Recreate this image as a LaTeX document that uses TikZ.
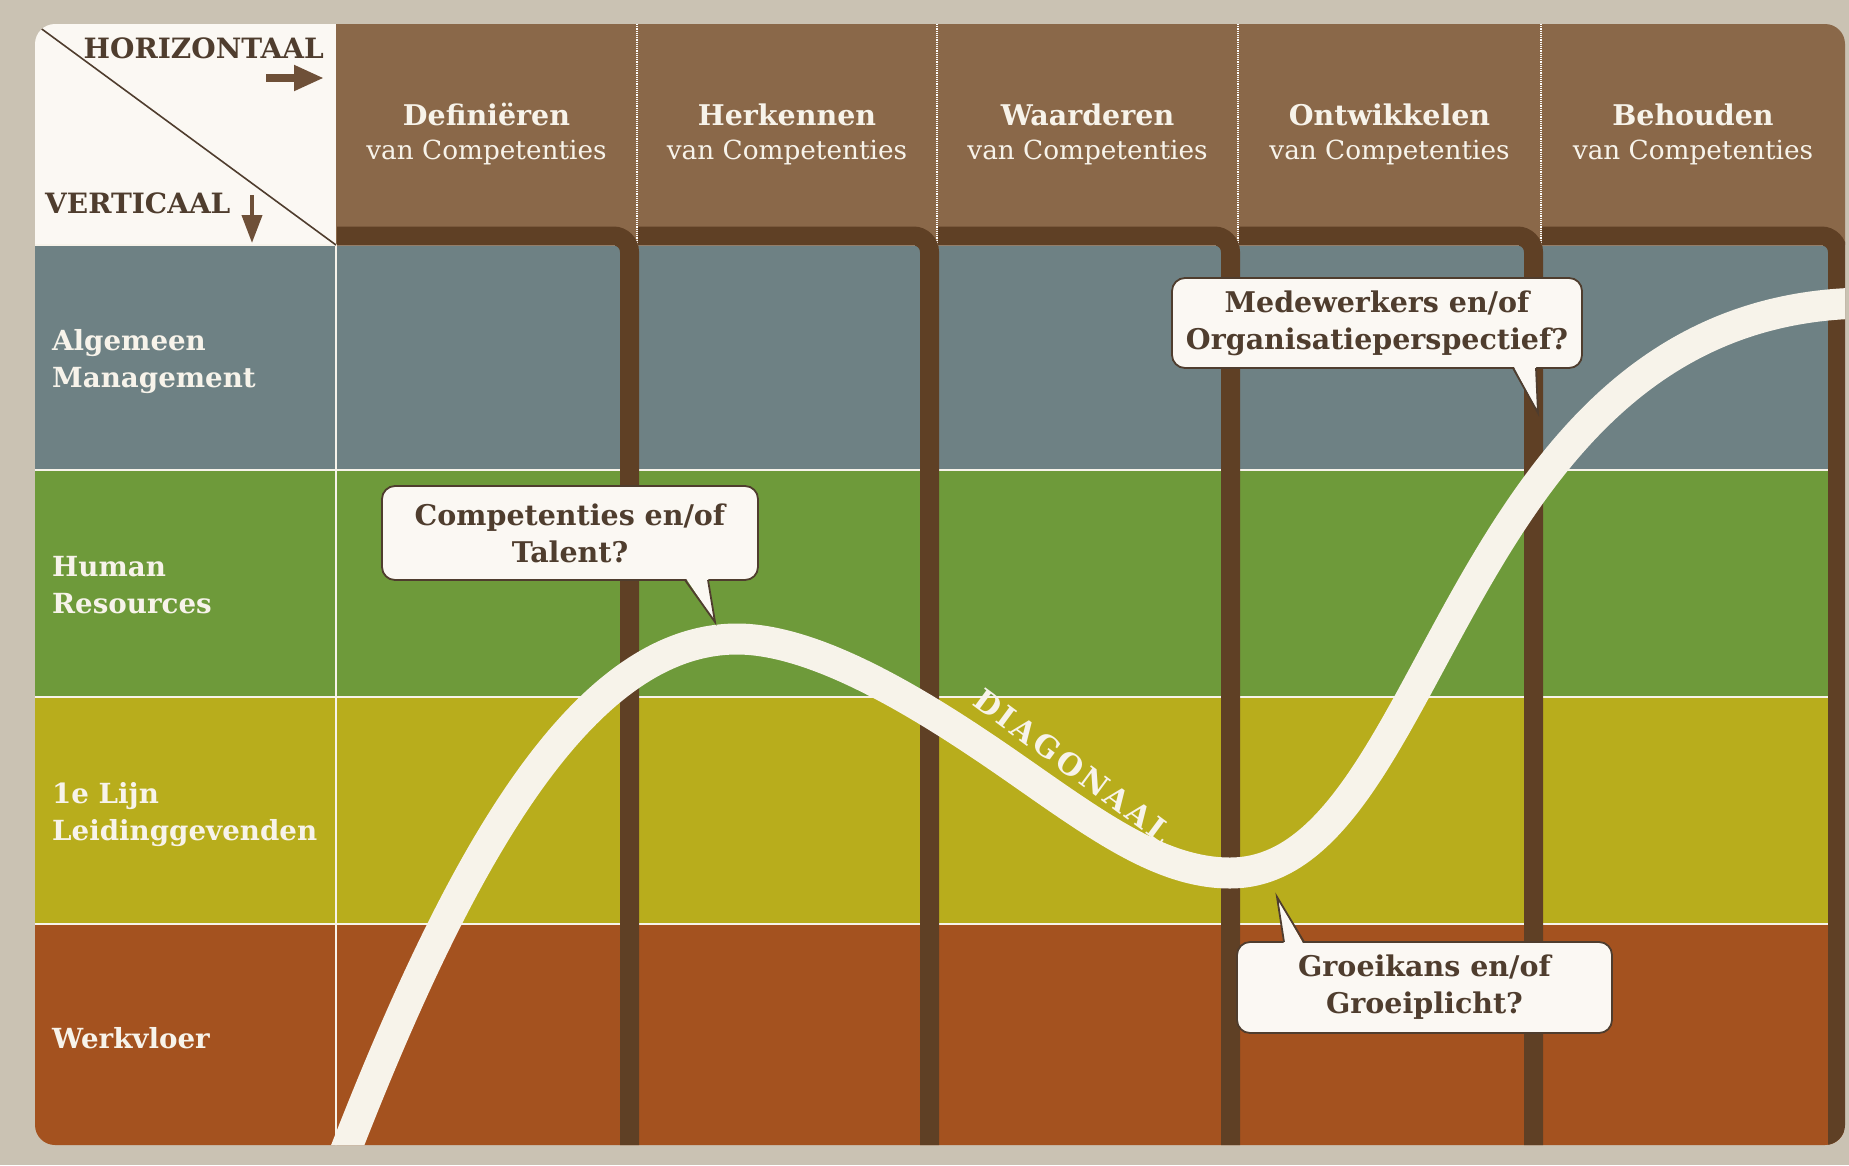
\documentclass[tikz,border=0pt]{standalone}
\usepackage{fontspec}
\setmainfont{DejaVu Serif}
\newfontfamily\diagfont[LetterSpace=11]{DejaVu Serif}
\usetikzlibrary{arrows.meta}
\definecolor{bgc}{HTML}{CAC2B3}
\definecolor{hdr}{HTML}{8A6849}
\definecolor{barc}{HTML}{5F4025}
\definecolor{slate}{HTML}{6E8184}
\definecolor{grn}{HTML}{6E9A3A}
\definecolor{ylw}{HTML}{B8AD1C}
\definecolor{rust}{HTML}{A4521F}
\definecolor{cream}{HTML}{F7F3EA}
\definecolor{wbox}{HTML}{FBF8F3}
\definecolor{dkb}{HTML}{4F3D2E}
\definecolor{arrc}{HTML}{6E5038}
\begin{document}
\begin{tikzpicture}[x=1pt,y=-1pt,
  rowline/.style={draw=cream,line width=2.5pt},
  hsep/.style={draw=white,line width=1.2pt,densely dotted},
  barline/.style={draw=barc,line width=19pt,line cap=butt,rounded corners=16pt},
  curveband/.style={draw=cream,line width=31pt,line cap=butt},
  hbold/.style={text=cream,font=\fontsize{28.5}{30}\selectfont\bfseries,anchor=base,inner sep=0pt},
  hreg/.style={text=cream,font=\fontsize{26.3}{30}\selectfont,anchor=base,inner sep=0pt},
  rowlab/.style={text=cream,font=\fontsize{27.7}{30}\selectfont\bfseries,anchor=base west,inner sep=0pt},
  axlab/.style={text=dkb,font=\fontsize{28}{30}\selectfont\bfseries,inner sep=0pt},
  bubble/.style={draw=dkb,line width=1.8pt,fill=wbox,rounded corners=13pt,align=center,
     text=dkb,font=\fontsize{28.5}{37}\selectfont\bfseries,inner sep=0pt},
  tailfill/.style={fill=wbox},
  tailline/.style={draw=dkb,line width=1.8pt,line join=miter},
]
\useasboundingbox (0,0) rectangle (1849,1165);
\fill[bgc] (0,0) rectangle (1849,1165);
\begin{scope}
\clip[rounded corners=20pt] (35,24) rectangle (1845,1145);
% rows
\fill[slate] (35,245) rectangle (1845,470);
\fill[grn] (35,470) rectangle (1845,697);
\fill[ylw] (35,697) rectangle (1845,924);
\fill[rust] (35,924) rectangle (1845,1150);
% header
\fill[hdr] (336,20) rectangle (1850,245);
\fill[wbox] (30,20) rectangle (336,245);
% row lines
\foreach \yy in {245,470,697,924} \draw[rowline] (35,\yy) -- (1845,\yy);
\draw[draw=cream,line width=1.5pt] (336,245) -- (336,1150);
% header separators
\foreach \xx in {637,937,1238,1541} \draw[hsep] (\xx,24) -- (\xx,245);
% column bars
\foreach \l/\r in {336/637,637/937,937/1238,1238/1541,1541/1845}
  \draw[barline] ({\l+1},236) -- ({\r-7.5},236) -- ({\r-7.5},1170);
% corner diagonal
\draw[dkb,line width=1.6pt] (35,24) -- (336,245);
% diagonal curve
\draw[curveband] (336,1175) -- (340,1165)
  .. controls (450,880) and (575,639) .. (737,639)
  .. controls (820,639) and (931,710) .. (1013,767)
  .. controls (1095,824) and (1160,873) .. (1230,873)
  .. controls (1440,873) and (1450,303) .. (1870,303);
\end{scope}

% axis labels
\node[axlab,anchor=base east] (hor) at (324,58) {HORIZONTAAL};
\node[axlab,anchor=base west] (ver) at (45,213) {VERTICAAL};
\coordinate (ha1) at (266,78);
\coordinate (ha2) at (324,78);
\coordinate (va1) at (252,195);
\coordinate (va2) at (252,243);
\draw[arrc,line width=8pt,-{Triangle[length=30pt,width=24pt]}] (ha1) -- (ha2);
\draw[arrc,line width=4pt,-{Triangle[length=28pt,width=20pt]}] (va1) -- (va2);

% header texts
\node[hbold] (hb1) at (486.5,125) {Definiëren};
\node[hreg]  (hr1) at (486.5,159) {van Competenties};
\node[hbold] (hb2) at (787,125) {Herkennen};
\node[hreg]  (hr2) at (787,159) {van Competenties};
\node[hbold] (hb3) at (1087.5,125) {Waarderen};
\node[hreg]  (hr3) at (1087.5,159) {van Competenties};
\node[hbold] (hb4) at (1389.5,125) {Ontwikkelen};
\node[hreg]  (hr4) at (1389.5,159) {van Competenties};
\node[hbold] (hb5) at (1693,125) {Behouden};
\node[hreg]  (hr5) at (1693,159) {van Competenties};

% row labels
\node[rowlab] (r1a) at (52,350) {Algemeen};
\node[rowlab] (r1b) at (52,387) {Management};
\node[rowlab] (r2a) at (52,576) {Human};
\node[rowlab] (r2b) at (52,613) {Resources};
\node[rowlab] (r3a) at (52,803) {1e Lijn};
\node[rowlab] (r3b) at (52,840) {Leidinggevenden};
\node[rowlab] (r4a) at (52,1048) {Werkvloer};

% DIAGONAAL
\node[text=cream,font=\diagfont\fontsize{30}{32}\selectfont\bfseries,rotate=-36.5,inner sep=0pt] (diag) at (1073,766) {DIAGONAAL};

% bubbles
\node[bubble,minimum width=376pt,minimum height=94pt] (b1) at (570,533) {Competenties en/of\\Talent?};
\coordinate (t1) at (715,622);
\fill[tailfill] (685,577) -- (t1) -- (708,577) -- cycle;
\draw[tailline] (685,580) -- (t1) -- (708,580);

\node[bubble,minimum width=410pt,minimum height=90pt] (b2) at (1377,323) {Medewerkers en/of\\Organisatieperspectief?};
\coordinate (t2) at (1538,413);
\fill[tailfill] (1513,365) -- (t2) -- (1536,365) -- cycle;
\draw[tailline] (1513,368) -- (t2) -- (1536,368);

\node[bubble,minimum width=375pt,minimum height=91pt] (b3) at (1424.5,987.5) {Groeikans en/of\\Groeiplicht?};
\coordinate (t3) at (1277,897);
\fill[tailfill] (1284,945) -- (t3) -- (1304,945) -- cycle;
\draw[tailline] (1284,942) -- (t3) -- (1304,942);
\end{tikzpicture}
\end{document}
